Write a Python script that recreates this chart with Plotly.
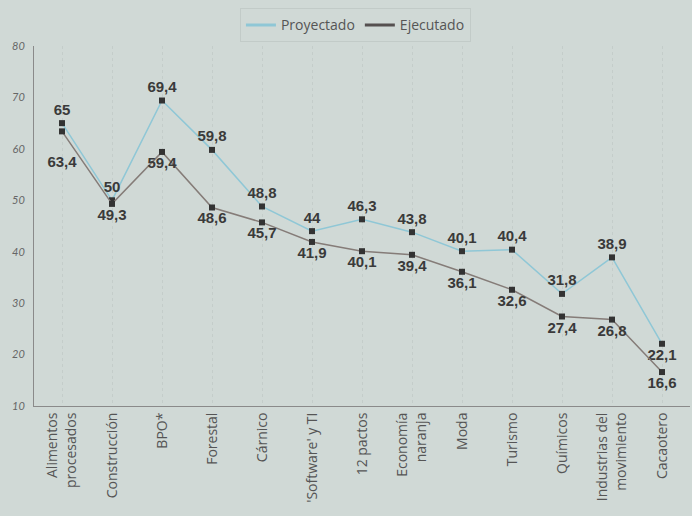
import plotly.graph_objects as go

categories = ["Alimentos<br>procesados", "Construcción", "BPO*", "Forestal", "Cárnico",
              "'Software' y TI", "12 pactos", "Economía<br>naranja", "Moda", "Turismo",
              "Químicos", "Industrias del<br>movimiento", "Cacaotero"]
proyectado = [65, 50, 69.4, 59.8, 48.8, 44, 46.3, 43.8, 40.1, 40.4, 31.8, 38.9, 22.1]
ejecutado = [63.4, 49.3, 59.4, 48.6, 45.7, 41.9, 40.1, 39.4, 36.1, 32.6, 27.4, 26.8, 16.6]
y_ticks = [10, 20, 30, 40, 50, 60, 70, 80]

def fmt(v):
    return ("%g" % v).replace(".", ",")

x = list(range(len(categories)))
proy_text = [fmt(v) for v in proyectado]
ejec_text = [fmt(v) for v in ejecutado]
ejec_text[0] = "<br>" + ejec_text[0]
proy_pos = ["top center"] * len(x)
proy_pos[-1] = "bottom center"
ejec_pos = ["bottom center"] * len(x)

BG = "#d0d9d6"
BLUE = "#8fc7d6"
GRAY = "#857c78"
LBL = dict(family="Liberation Sans, Arial", size=15, color="#3a3a3a", weight="bold")

fig = go.Figure()
fig.add_trace(go.Scatter(
    x=x, y=proyectado, name="Proyectado", mode="lines+markers+text", showlegend=False,
    line=dict(color=BLUE, width=1.5),
    marker=dict(symbol="square", size=6, color="#333333"),
    text=proy_text, textposition=proy_pos, textfont=LBL, cliponaxis=False,
))
fig.add_trace(go.Scatter(
    x=x, y=ejecutado, name="Ejecutado", mode="lines+markers+text", showlegend=False,
    line=dict(color=GRAY, width=1.5),
    marker=dict(symbol="square", size=6, color="#333333"),
    text=ejec_text, textposition=ejec_pos, textfont=LBL, cliponaxis=False,
))
# legend-only entries (line symbols)
fig.add_trace(go.Scatter(x=[None], y=[None], name="Proyectado", mode="lines",
                         line=dict(color=BLUE, width=3)))
fig.add_trace(go.Scatter(x=[None], y=[None], name="Ejecutado", mode="lines",
                         line=dict(color="#555050", width=3)))

fig.update_layout(
    width=692, height=516,
    paper_bgcolor=BG, plot_bgcolor=BG,
    margin=dict(l=34, r=2, t=46, b=110),
    font=dict(family="Open Sans, Lato, sans-serif", color="#4a4a4a"),
    legend=dict(orientation="h", x=0.49, xanchor="center", y=1.01, yanchor="bottom",
                bgcolor=BG, bordercolor="#c2cbc8", borderwidth=1,
                font=dict(size=14, color="#555555")),
)
fig.update_xaxes(
    tickmode="array", tickvals=x, ticktext=categories, tickangle=-90,
    range=[-0.56, 12.56], showgrid=True, gridcolor="#c4cdca", griddash="dot", gridwidth=1,
    showline=True, linecolor="#8a8a8a", linewidth=1, zeroline=False,
    tickfont=dict(size=14, color="#555555"), ticks="",
)
fig.update_yaxes(
    range=[10, 80], tickvals=y_ticks, showgrid=False, zeroline=False,
    showline=True, linecolor="#8a8a8a", linewidth=1,
    tickfont=dict(size=11, color="#666666", family="Lato, sans-serif", style="italic"),
    ticks="", ticklabelstandoff=6,
)
fig.write_html("out.html", config={"displayModeBar": False},
               post_script="document.body.style.margin='0';document.body.style.background='%s';" % BG)
